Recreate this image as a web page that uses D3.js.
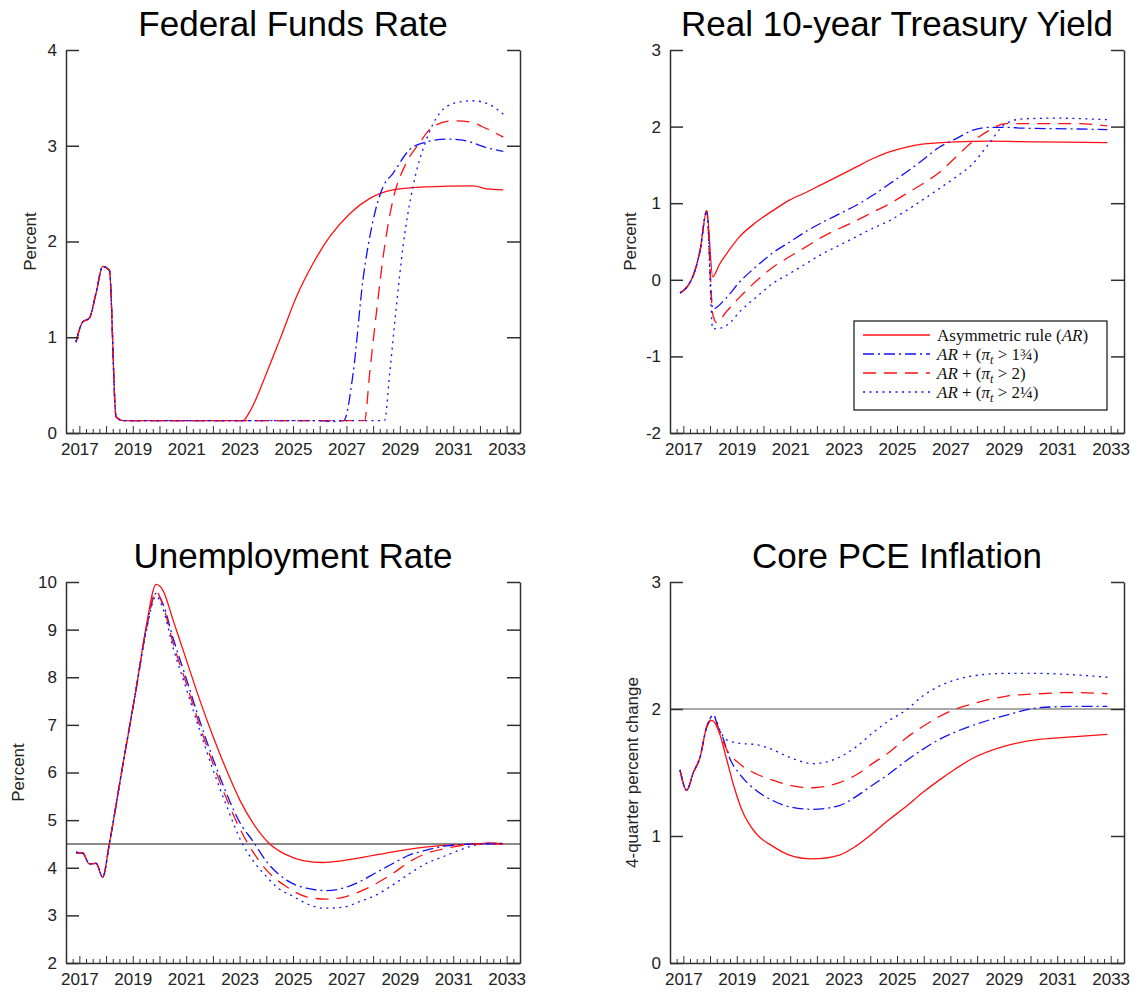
<!DOCTYPE html>
<html>
<head>
<meta charset="utf-8">
<script src="https://cdn.jsdelivr.net/npm/d3@7"></script>
<style>
  body { margin: 0; background: #fff; }
  svg { display: block; }
</style>
</head>
<body>
<svg id="chart" width="1138" height="996"></svg>
<script>
// ---------------------------------------------------------------
// Simulated paths under four monetary-policy rules, quarterly,
// as [decimal year, value] pairs.
// ---------------------------------------------------------------

// Tick labels
const yearLabels = [2017, 2019, 2021, 2023, 2025, 2027, 2029, 2031, 2033];
const fedTicks = [0, 1, 2, 3, 4];
const realTicks = [-2, -1, 0, 1, 2, 3];
const unempTicks = [2, 3, 4, 5, 6, 7, 8, 9, 10];
const pceTicks = [0, 1, 2, 3];

// Legend entries (rich text segments)
const seriesLabels = [
  [{ t: "Asymmetric rule (" }, { t: "AR", it: true }, { t: ")" }],
  [{ t: "AR", it: true }, { t: " + (" }, { t: "π", it: true }, { t: "t", it: true, sub: true }, { t: " > 1¾)" }],
  [{ t: "AR", it: true }, { t: " + (" }, { t: "π", it: true }, { t: "t", it: true, sub: true }, { t: " > 2)" }],
  [{ t: "AR", it: true }, { t: " + (" }, { t: "π", it: true }, { t: "t", it: true, sub: true }, { t: " > 2¼)" }]
];

// Federal funds rate, percent
const fedAR = [[2016.875,0.95],[2017.125,1.16],[2017.375,1.20],[2017.625,1.46],[2017.875,1.74],[2018.125,1.70],[2018.375,0.17],[2018.625,0.13],
  [2023.125,0.13],[2023.375,0.22],[2024.0,0.62],[2024.5,0.97],[2025.125,1.42],[2025.75,1.77],[2026.375,2.05],[2027.125,2.29],
  [2027.875,2.45],[2028.75,2.54],[2030.0,2.57],[2031.75,2.58],[2032.25,2.55],[2032.875,2.54]];
const fedA175 = [[2016.875,0.95],[2017.125,1.16],[2017.375,1.20],[2017.625,1.46],[2017.875,1.74],[2018.125,1.70],[2018.375,0.17],[2018.625,0.13],
  [2026.0,0.13],[2026.5,0.12],[2026.9,0.13],[2027.25,0.62],[2027.62,1.60],[2028.0,2.22],[2028.37,2.57],[2028.74,2.71],[2029.37,2.96],
  [2029.99,3.04],[2030.74,3.07],[2031.49,3.05],[2032.24,2.98],[2032.875,2.94]];
const fedA200 = [[2016.875,0.95],[2017.125,1.16],[2017.375,1.20],[2017.625,1.46],[2017.875,1.74],[2018.125,1.70],[2018.375,0.17],[2018.625,0.13],
  [2027.68,0.13],[2027.87,0.62],[2028.12,1.25],[2028.43,1.95],[2028.74,2.43],[2029.24,2.82],[2029.74,3.03],[2030.24,3.20],
  [2030.99,3.26],[2031.61,3.25],[2032.24,3.18],[2032.875,3.09]];
const fedA225 = [[2016.875,0.95],[2017.125,1.16],[2017.375,1.20],[2017.625,1.46],[2017.875,1.74],[2018.125,1.70],[2018.375,0.17],[2018.625,0.13],
  [2028.43,0.13],[2028.62,0.62],[2028.87,1.32],[2029.12,1.95],[2029.49,2.57],[2029.99,3.06],[2030.49,3.34],[2031.11,3.45],
  [2031.74,3.47],[2032.36,3.43],[2032.875,3.33]];

// Real 10-year Treasury yield, percent
const realAR = [[2016.875,-0.17],[2017.125,-0.10],[2017.375,0.06],[2017.625,0.38],[2017.875,0.90],[2018.1,0.04],[2018.35,0.20],
  [2018.7,0.38],[2019.1,0.56],[2019.72,0.75],[2020.34,0.90],[2020.97,1.04],[2021.59,1.14],[2022.21,1.25],[2022.84,1.36],[2023.46,1.47],
  [2024.08,1.58],[2024.71,1.67],[2025.33,1.73],[2025.95,1.77],[2027.2,1.80],[2028.45,1.81],[2030.32,1.80],[2032.875,1.79]];
const realA175 = [[2016.875,-0.17],[2017.125,-0.10],[2017.375,0.06],[2017.625,0.38],[2017.875,0.90],[2018.1,-0.38],[2018.6,-0.24],
  [2019.1,-0.03],[2019.72,0.17],[2020.34,0.35],[2020.97,0.49],[2021.59,0.63],[2022.21,0.75],[2022.84,0.86],[2023.46,0.97],
  [2024.08,1.10],[2024.71,1.25],[2025.33,1.40],[2025.95,1.56],[2026.58,1.73],[2027.2,1.84],[2027.82,1.95],[2028.45,1.99],
  [2029.07,1.99],[2029.7,1.98],[2031.56,1.97],[2032.875,1.96]];
const realA200 = [[2016.875,-0.17],[2017.125,-0.10],[2017.375,0.06],[2017.625,0.38],[2017.875,0.90],[2018.1,-0.45],[2018.25,-0.56],
  [2018.6,-0.42],[2019.1,-0.23],[2019.72,-0.02],[2020.34,0.16],[2020.97,0.30],[2021.59,0.43],[2022.21,0.56],[2022.84,0.67],
  [2023.46,0.77],[2024.08,0.88],[2024.71,0.99],[2025.33,1.12],[2025.95,1.25],[2026.58,1.40],[2027.2,1.60],[2027.82,1.80],
  [2028.45,1.95],[2029.07,2.04],[2029.7,2.04],[2031.56,2.04],[2032.875,2.01]];
const realA225 = [[2016.875,-0.17],[2017.125,-0.10],[2017.375,0.06],[2017.625,0.38],[2017.875,0.90],[2018.1,-0.64],[2018.4,-0.63],
  [2018.72,-0.57],[2019.1,-0.42],[2019.72,-0.23],[2020.34,-0.05],[2020.97,0.08],[2021.59,0.21],[2022.21,0.34],[2022.84,0.45],
  [2023.46,0.56],[2024.08,0.67],[2024.71,0.77],[2025.33,0.90],[2025.95,1.04],[2026.58,1.19],[2027.2,1.34],[2027.82,1.51],
  [2028.45,1.78],[2029.07,2.04],[2029.7,2.10],[2030.9,2.11],[2032.875,2.09]];

// Unemployment rate, percent
const unempAR = [[2016.875,4.32],[2017.125,4.31],[2017.375,4.08],[2017.625,4.09],[2017.875,3.80],[2018.125,4.51],[2018.625,6.15],
  [2019.125,7.75],[2019.5,9.06],[2019.875,9.95],[2020.125,9.83],[2020.51,9.20],[2021.01,8.36],[2021.51,7.52],[2022.01,6.75],
  [2022.51,6.05],[2023.01,5.42],[2023.51,4.93],[2024.13,4.50],[2024.76,4.27],[2025.38,4.15],[2026.12,4.11],[2026.87,4.15],
  [2028.12,4.27],[2029.37,4.39],[2030.61,4.47],[2031.86,4.50],[2032.36,4.52],[2032.875,4.50]];
const unempA175 = [[2016.875,4.32],[2017.125,4.31],[2017.375,4.08],[2017.625,4.09],[2017.875,3.80],[2018.125,4.51],[2018.625,6.15],
  [2019.125,7.75],[2019.5,9.0],[2019.875,9.76],[2020.125,9.55],[2020.51,8.82],[2021.01,7.96],[2021.51,7.08],[2022.01,6.28],
  [2022.51,5.56],[2023.01,4.95],[2023.51,4.55],[2024.01,4.13],[2024.76,3.74],[2025.5,3.57],[2026.25,3.52],[2026.87,3.57],
  [2027.5,3.71],[2028.12,3.90],[2028.74,4.09],[2029.37,4.27],[2029.99,4.37],[2030.74,4.46],[2031.36,4.49],[2032.0,4.50],[2032.875,4.50]];
const unempA200 = [[2016.875,4.32],[2017.125,4.31],[2017.375,4.08],[2017.625,4.09],[2017.875,3.80],[2018.125,4.51],[2018.625,6.15],
  [2019.125,7.75],[2019.5,9.0],[2019.875,9.80],[2020.125,9.52],[2020.51,8.72],[2021.01,7.86],[2021.51,6.98],[2022.01,6.18],
  [2022.51,5.45],[2023.01,4.82],[2023.32,4.50],[2024.01,3.95],[2024.76,3.60],[2025.5,3.39],[2026.25,3.34],[2026.87,3.38],
  [2027.5,3.50],[2028.12,3.67],[2028.74,3.88],[2029.37,4.13],[2029.99,4.30],[2030.74,4.41],[2031.36,4.47],[2031.99,4.50],[2032.875,4.50]];
const unempA225 = [[2016.875,4.32],[2017.125,4.31],[2017.375,4.08],[2017.625,4.09],[2017.875,3.80],[2018.125,4.51],[2018.625,6.15],
  [2019.125,7.75],[2019.5,8.95],[2019.875,9.70],[2020.125,9.45],[2020.51,8.62],[2021.01,7.75],[2021.51,6.88],[2022.01,6.05],
  [2022.51,5.30],[2023.11,4.50],[2023.5,4.15],[2024.0,3.82],[2024.38,3.60],[2025.0,3.40],[2025.63,3.22],[2026.12,3.15],
  [2026.87,3.17],[2027.5,3.29],[2028.12,3.43],[2028.74,3.64],[2029.37,3.88],[2029.99,4.09],[2030.61,4.23],[2031.24,4.37],
  [2031.86,4.48],[2032.36,4.51],[2032.875,4.51]];

// Core PCE inflation, 4-quarter percent change
const pceAR = [[2016.875,1.52],[2017.125,1.36],[2017.375,1.50],[2017.625,1.62],[2017.875,1.86],[2018.07,1.91],[2018.35,1.81],
  [2018.6,1.62],[2018.91,1.38],[2019.2,1.20],[2019.72,1.02],[2020.34,0.92],[2020.97,0.85],[2021.84,0.82],[2022.84,0.85],
  [2023.46,0.92],[2024.08,1.02],[2024.71,1.13],[2025.33,1.23],[2025.95,1.34],[2026.58,1.44],[2027.2,1.53],[2027.82,1.61],
  [2029.07,1.71],[2030.32,1.76],[2031.56,1.78],[2032.875,1.80]];
const pceA175 = [[2016.875,1.52],[2017.125,1.36],[2017.375,1.50],[2017.625,1.62],[2017.875,1.86],[2018.125,1.95],[2018.3,1.86],
  [2018.47,1.78],[2018.72,1.62],[2019.1,1.49],[2019.72,1.36],[2020.34,1.28],[2020.97,1.23],[2021.84,1.21],[2022.84,1.24],
  [2023.46,1.31],[2024.08,1.40],[2024.71,1.49],[2025.33,1.59],[2025.95,1.68],[2026.58,1.76],[2027.2,1.82],[2027.82,1.87],
  [2029.07,1.95],[2030.32,2.01],[2031.56,2.02],[2032.875,2.02]];
const pceA200 = [[2016.875,1.52],[2017.125,1.36],[2017.375,1.50],[2017.625,1.62],[2017.875,1.86],[2018.125,1.93],[2018.35,1.82],
  [2018.6,1.69],[2019.1,1.57],[2019.72,1.49],[2020.34,1.44],[2020.97,1.40],[2021.84,1.38],[2022.84,1.42],[2023.46,1.48],
  [2024.08,1.57],[2024.71,1.66],[2025.33,1.77],[2025.95,1.86],[2026.58,1.94],[2027.2,2.00],[2027.82,2.04],[2029.07,2.10],
  [2030.32,2.12],[2031.56,2.13],[2032.875,2.12]];
const pceA225 = [[2016.875,1.52],[2017.125,1.36],[2017.375,1.50],[2017.625,1.62],[2017.875,1.86],[2018.125,1.95],[2018.4,1.82],
  [2018.6,1.76],[2019.1,1.73],[2019.72,1.72],[2020.34,1.68],[2020.97,1.62],[2021.84,1.57],[2022.84,1.62],[2023.46,1.70],
  [2024.08,1.81],[2024.71,1.91],[2025.33,1.99],[2025.95,2.10],[2026.58,2.18],[2027.2,2.23],[2027.82,2.26],[2029.07,2.28],
  [2030.32,2.28],[2031.56,2.27],[2032.875,2.25]];

// Horizontal reference levels
const unempNatural = 4.5;
const pceTarget = 2;

// ---------------------------------------------------------------
// Layout and styling
// ---------------------------------------------------------------
const lineStyles = [
  { color: "#ff1010", dash: null },
  { color: "#1010ff", dash: "11,4,2,4" },
  { color: "#ff1010", dash: "13,8" },
  { color: "#1010ff", dash: "2,4.5" }
];

const panels = [
  { title: "Federal Funds Rate", x0: 66, x1: 520, yTop: 50, yBot: 433, ticks: fedTicks,
    ylabel: "Percent", ylabelX: 36, series: [fedAR, fedA175, fedA200, fedA225] },
  { title: "Real 10-year Treasury Yield", x0: 670, x1: 1124, yTop: 50, yBot: 433, ticks: realTicks,
    ylabel: "Percent", ylabelX: 636, series: [realAR, realA175, realA200, realA225], legend: true },
  { title: "Unemployment Rate", x0: 66, x1: 520, yTop: 582, yBot: 963, ticks: unempTicks,
    ylabel: "Percent", ylabelX: 24, series: [unempAR, unempA175, unempA200, unempA225], ref: unempNatural,
    refStyle: { color: "#8a8a8a", width: 2 } },
  { title: "Core PCE Inflation", x0: 670, x1: 1124, yTop: 582, yBot: 963, ticks: pceTicks,
    ylabel: "4-quarter percent change", ylabelX: 638, series: [pceAR, pceA175, pceA200, pceA225], ref: pceTarget,
    refStyle: { color: "#555", width: 1.2 } }
];

const svg = d3.select("#chart");
const sansFont = "'Liberation Sans', Arial, Helvetica, sans-serif";
const serifFont = "'Liberation Serif', 'Times New Roman', serif";
const axisColor = "#303030";
const textColor = "#222";

panels.forEach(p => {
  const x = d3.scaleLinear().domain([2016.5, 2033.5]).range([p.x0, p.x1]);
  const y = d3.scaleLinear().domain([p.ticks[0], p.ticks[p.ticks.length - 1]]).range([p.yBot, p.yTop]);
  const g = svg.append("g");

  // Title
  g.append("text")
    .attr("x", (p.x0 + p.x1) / 2).attr("y", p.yTop - 14)
    .attr("text-anchor", "middle")
    .attr("font-family", sansFont).attr("font-size", 35)
    .attr("fill", "#000")
    .text(p.title);

  // Y axis label
  g.append("text")
    .attr("transform", `translate(${p.ylabelX},${(p.yTop + p.yBot) / 2}) rotate(-90)`)
    .attr("text-anchor", "middle")
    .attr("font-family", sansFont).attr("font-size", 17)
    .attr("fill", textColor)
    .text(p.ylabel);

  // Reference line
  if (p.ref !== undefined) {
    g.append("line")
      .attr("x1", p.x0).attr("x2", p.x1)
      .attr("y1", y(p.ref)).attr("y2", y(p.ref))
      .attr("stroke", p.refStyle.color).attr("stroke-width", p.refStyle.width);
  }

  // Series
  const line = d3.line()
    .x(d => x(d[0])).y(d => y(d[1]))
    .curve(d3.curveMonotoneX);
  p.series.forEach((s, i) => {
    const st = lineStyles[i];
    g.append("path")
      .datum(s)
      .attr("d", line)
      .attr("fill", "none")
      .attr("stroke", st.color)
      .attr("stroke-width", 1.3)
      .attr("stroke-dasharray", st.dash)
      .attr("stroke-linejoin", "round");
  });

  // Left y axis with inward ticks, labels outside
  const leftAxis = d3.axisLeft(y).tickValues(p.ticks).tickSizeInner(-13).tickSizeOuter(0).tickPadding(9)
    .tickFormat(d => String(d));
  const la = g.append("g").attr("transform", `translate(${p.x0},0)`).call(leftAxis);
  la.select(".domain").attr("stroke", axisColor).attr("stroke-width", 1.5);
  la.selectAll(".tick line").attr("stroke", axisColor).attr("stroke-width", 1.5);
  la.selectAll(".tick text").attr("font-family", sansFont).attr("font-size", 17).attr("fill", textColor);

  // Right y axis, ticks only
  const rightAxis = d3.axisRight(y).tickValues(p.ticks).tickSizeInner(-13).tickSizeOuter(0).tickFormat("");
  const ra = g.append("g").attr("transform", `translate(${p.x1},0)`).call(rightAxis);
  ra.select(".domain").attr("stroke", axisColor).attr("stroke-width", 1.5);
  ra.selectAll(".tick line").attr("stroke", axisColor).attr("stroke-width", 1.5);

  // Bottom x axis: quarterly minor ticks, yearly major ticks, labels every two years
  const quarters = d3.range(2016.5, 2033.5001, 0.25);
  const minorAxis = d3.axisBottom(x).tickValues(quarters.filter(q => q % 1 !== 0))
    .tickSizeInner(-4).tickSizeOuter(0).tickFormat("");
  const xa = g.append("g").attr("transform", `translate(0,${p.yBot})`).call(minorAxis);
  xa.select(".domain").attr("stroke", axisColor).attr("stroke-width", 1.5);
  xa.selectAll(".tick line").attr("stroke", axisColor).attr("stroke-width", 1);

  const majorAxis = d3.axisBottom(x).tickValues(d3.range(2017, 2034))
    .tickSizeInner(-7).tickSizeOuter(0)
    .tickFormat(d => yearLabels.includes(d) ? String(d) : "").tickPadding(10);
  const xm = g.append("g").attr("transform", `translate(0,${p.yBot})`).call(majorAxis);
  xm.select(".domain").remove();
  xm.selectAll(".tick line").attr("stroke", axisColor).attr("stroke-width", 1);
  xm.selectAll(".tick text").attr("font-family", sansFont).attr("font-size", 17).attr("fill", textColor);

  // Legend
  if (p.legend) {
    const lx = 854, ly = 321, lw = 253, lh = 89, rowH = 19;
    const lg = g.append("g");
    lg.append("rect")
      .attr("x", lx).attr("y", ly).attr("width", lw).attr("height", lh)
      .attr("fill", "#fff").attr("stroke", "#111").attr("stroke-width", 1.2);
    seriesLabels.forEach((segs, i) => {
      const cy = ly + 14 + i * rowH;
      lg.append("line")
        .attr("x1", lx + 9).attr("x2", lx + 76)
        .attr("y1", cy).attr("y2", cy)
        .attr("stroke", lineStyles[i].color).attr("stroke-width", 1.3)
        .attr("stroke-dasharray", lineStyles[i].dash);
      const t = lg.append("text")
        .attr("x", lx + 83).attr("y", cy + 6)
        .attr("font-family", serifFont).attr("font-size", 17)
        .attr("fill", "#111");
      let shifted = false;
      segs.forEach(s => {
        const ts = t.append("tspan").text(s.t);
        if (s.it) ts.attr("font-style", "italic");
        if (s.sub) { ts.attr("dy", 4).attr("font-size", 12); shifted = true; }
        else if (shifted) { ts.attr("dy", -4); shifted = false; }
      });
    });
  }
});
</script>
</body>
</html>
